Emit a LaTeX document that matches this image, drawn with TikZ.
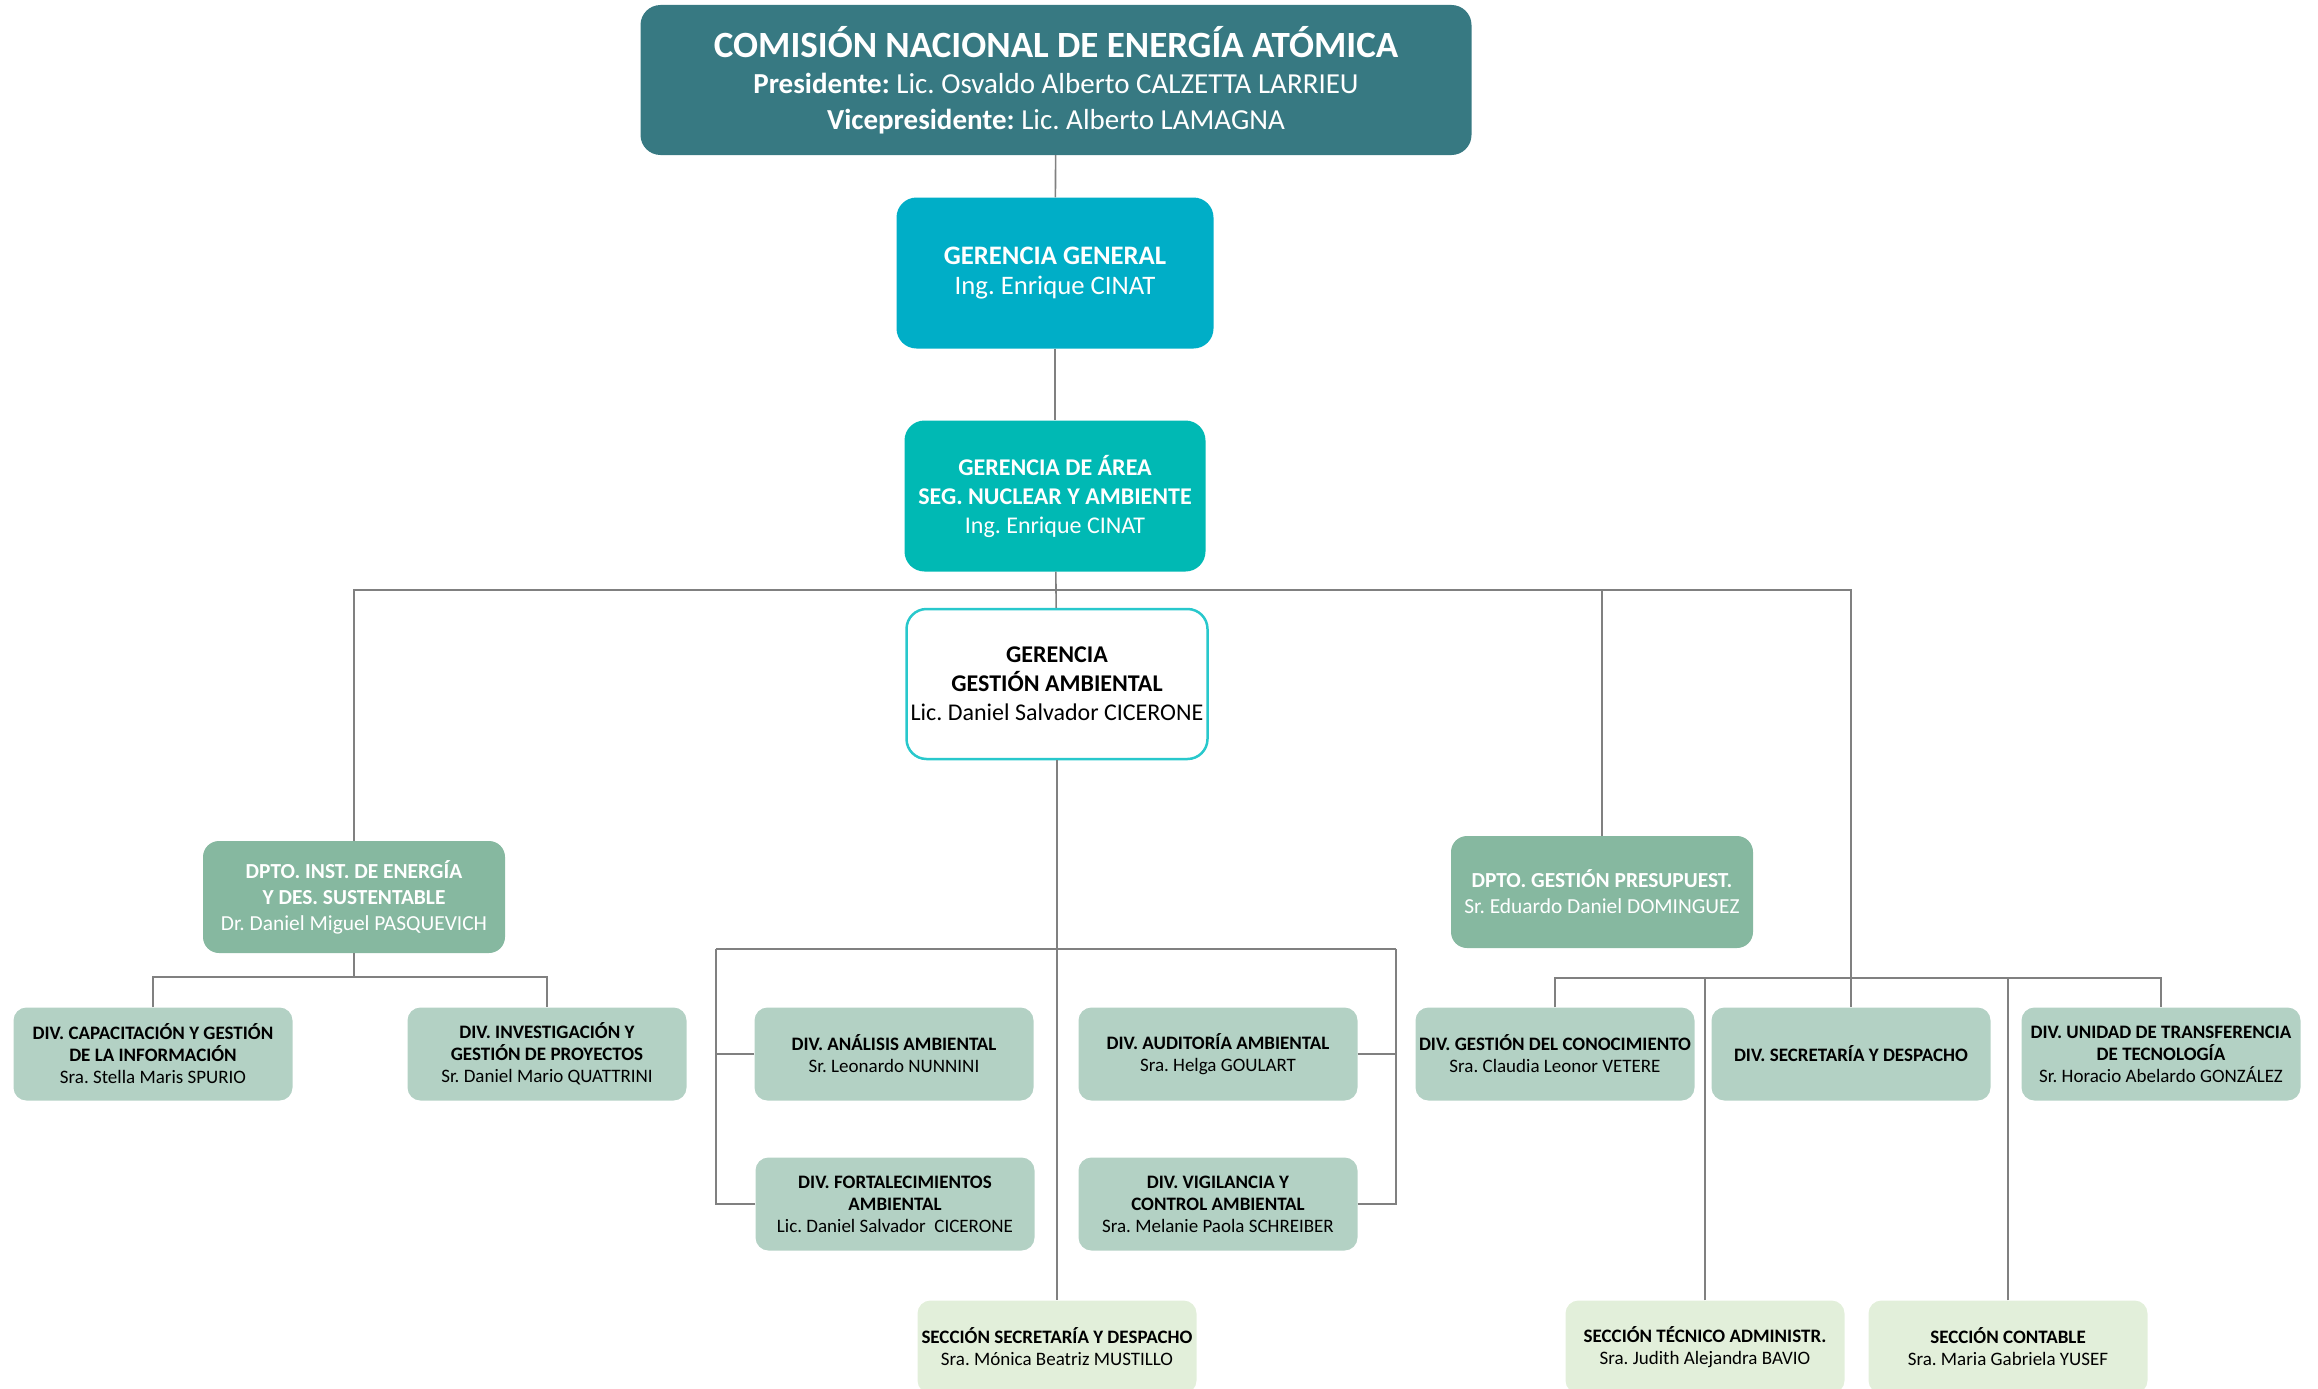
\documentclass[tikz,border=0pt]{standalone}
\usepackage{fontspec}
\setmainfont{Carlito}
\frenchspacing
\usetikzlibrary{positioning}

\definecolor{cneateal}{RGB}{55,121,130}
\definecolor{ggblue}{RGB}{0,174,199}
\definecolor{gateal}{RGB}{0,185,180}
\definecolor{ggaborder}{RGB}{40,200,204}
\definecolor{dptogreen}{RGB}{134,184,160}
\definecolor{divgreen}{RGB}{179,209,196}
\definecolor{secgreen}{RGB}{226,239,218}
\definecolor{linegray}{RGB}{128,128,128}

\begin{document}
\begin{tikzpicture}[x=1pt,y=-1pt,
  box/.style={rounded corners=20pt,align=center,inner sep=2pt},
  cnea/.style={box,fill=cneateal,text=white,minimum width=831pt,minimum height=150pt,font=\fontsize{29}{36}\selectfont},
  gerbox/.style={box,text=white,minimum width=310pt,minimum height=151pt,font=\fontsize{24}{29}\selectfont},
  dpto/.style={box,rounded corners=16pt,fill=dptogreen,text=white,minimum width=302pt,minimum height=112pt,font=\fontsize{21.4}{26}\selectfont},
  div/.style={box,rounded corners=13pt,fill=divgreen,minimum width=279pt,minimum height=93pt,font=\fontsize{19}{22}\selectfont},
  secc/.style={box,rounded corners=13pt,fill=secgreen,minimum width=279pt,minimum height=93pt,font=\fontsize{19}{22}\selectfont},
  con/.style={draw=linegray,line width=1.6pt}]
\useasboundingbox (0,0) rectangle (2318,1389);
\clip (0,0) rectangle (2318,1389);
% Top levels
\node[cnea] (cnea) at (1056,80) {{\fontsize{37}{40}\selectfont\bfseries COMISIÓN NACIONAL DE ENERGÍA ATÓMICA}\\
  \textbf{Presidente:} Lic. Osvaldo Alberto CALZETTA LARRIEU\\
  \textbf{Vicepresidente:} Lic. Alberto LAMAGNA};
\node[gerbox,fill=ggblue,minimum width=317pt,font=\fontsize{26.7}{30}\selectfont] (gg) at (1055,273) {\textbf{GERENCIA GENERAL}\\Ing. Enrique CINAT};
\node[gerbox,fill=gateal,minimum width=301pt] (ga) at (1055,496) {\textbf{GERENCIA DE ÁREA}\\\textbf{SEG. NUCLEAR Y AMBIENTE}\\Ing. Enrique CINAT};
\node[gerbox,fill=white,draw=ggaborder,line width=2.5pt,text=black,minimum width=301pt,minimum height=150pt] (gga) at (1057,684) {\textbf{GERENCIA}\\\textbf{GESTIÓN AMBIENTAL}\\Lic. Daniel Salvador CICERONE};
% Departamentos
\node[dpto] (dinst) at (354,897) {\textbf{DPTO. INST. DE ENERGÍA}\\\textbf{Y DES. SUSTENTABLE}\\Dr. Daniel Miguel PASQUEVICH};
\node[dpto] (dpres) at (1602,892) {\textbf{DPTO. GESTIÓN PRESUPUEST.}\\Sr. Eduardo Daniel DOMINGUEZ};
% Divisiones
\node[div] (dcap) at (153,1054) {\textbf{DIV. CAPACITACIÓN Y GESTIÓN}\\\textbf{DE LA INFORMACIÓN}\\Sra. Stella Maris SPURIO};
\node[div] (dinv) at (547,1054) {\textbf{DIV. INVESTIGACIÓN Y}\\\textbf{GESTIÓN DE PROYECTOS}\\Sr. Daniel Mario QUATTRINI};
\node[div] (danal) at (894,1054) {\textbf{DIV. ANÁLISIS AMBIENTAL}\\Sr. Leonardo NUNNINI};
\node[div] (daud) at (1218,1054) {\textbf{DIV. AUDITORÍA AMBIENTAL}\\Sra. Helga GOULART};
\node[div] (dfort) at (895,1204) {\textbf{DIV. FORTALECIMIENTOS}\\\textbf{AMBIENTAL}\\Lic. Daniel Salvador~~CICERONE};
\node[div] (dvig) at (1218,1204) {\textbf{DIV. VIGILANCIA Y}\\\textbf{CONTROL AMBIENTAL}\\Sra. Melanie Paola SCHREIBER};
\node[div] (dconoc) at (1555,1054) {\textbf{DIV. GESTIÓN DEL CONOCIMIENTO}\\Sra. Claudia Leonor VETERE};
\node[div] (dsecr) at (1851,1054) {\textbf{DIV. SECRETARÍA Y DESPACHO}};
\node[div] (dunidad) at (2161,1054) {\textbf{DIV. UNIDAD DE TRANSFERENCIA}\\\textbf{DE TECNOLOGÍA}\\Sr. Horacio Abelardo GONZÁLEZ};
% Secciones
\node[secc] (ssec) at (1057,1347) {\textbf{SECCIÓN SECRETARÍA Y DESPACHO}\\Sra. Mónica Beatriz MUSTILLO};
\node[secc] (stec) at (1705,1347) {\textbf{SECCIÓN TÉCNICO ADMINISTR.}\\Sra. Judith Alejandra BAVIO};
\node[secc] (scont) at (2008,1347) {\textbf{SECCIÓN CONTABLE}\\Sra. Maria Gabriela YUSEF};
% Junctions
\coordinate (bus) at (1056,590);
\coordinate (jl) at (354,977);
\coordinate (jr) at (1851,978);
\coordinate (ml) at (716,949);
\coordinate (mr) at (1396,949);
% Connectors
\draw[con] (cnea) -- (gg);
\draw[con] (gg) -- (ga);
\draw[con] (ga) -- (gga);
\draw[con] (dinst.north) |- (bus) -| (dsecr.north);
\draw[con] (dpres.north) -- (dpres.north |- bus);
\draw[con] (dinst.south) -- (jl);
\draw[con] (dcap.north) |- (jl) -| (dinv.north);
\draw[con] (gga.south) -- (ssec.north);
\draw[con] (ml) -- (mr);
\draw[con] (danal.west) -| (ml);
\draw[con] (dfort.west) -| (ml);
\draw[con] (daud.east) -| (mr);
\draw[con] (dvig.east) -| (mr);
\draw[con] (dconoc.north) |- (jr) -| (dunidad.north);
\draw[con] (stec.north) -- (stec.north |- jr);
\draw[con] (scont.north) -- (scont.north |- jr);
\end{tikzpicture}
\end{document}
